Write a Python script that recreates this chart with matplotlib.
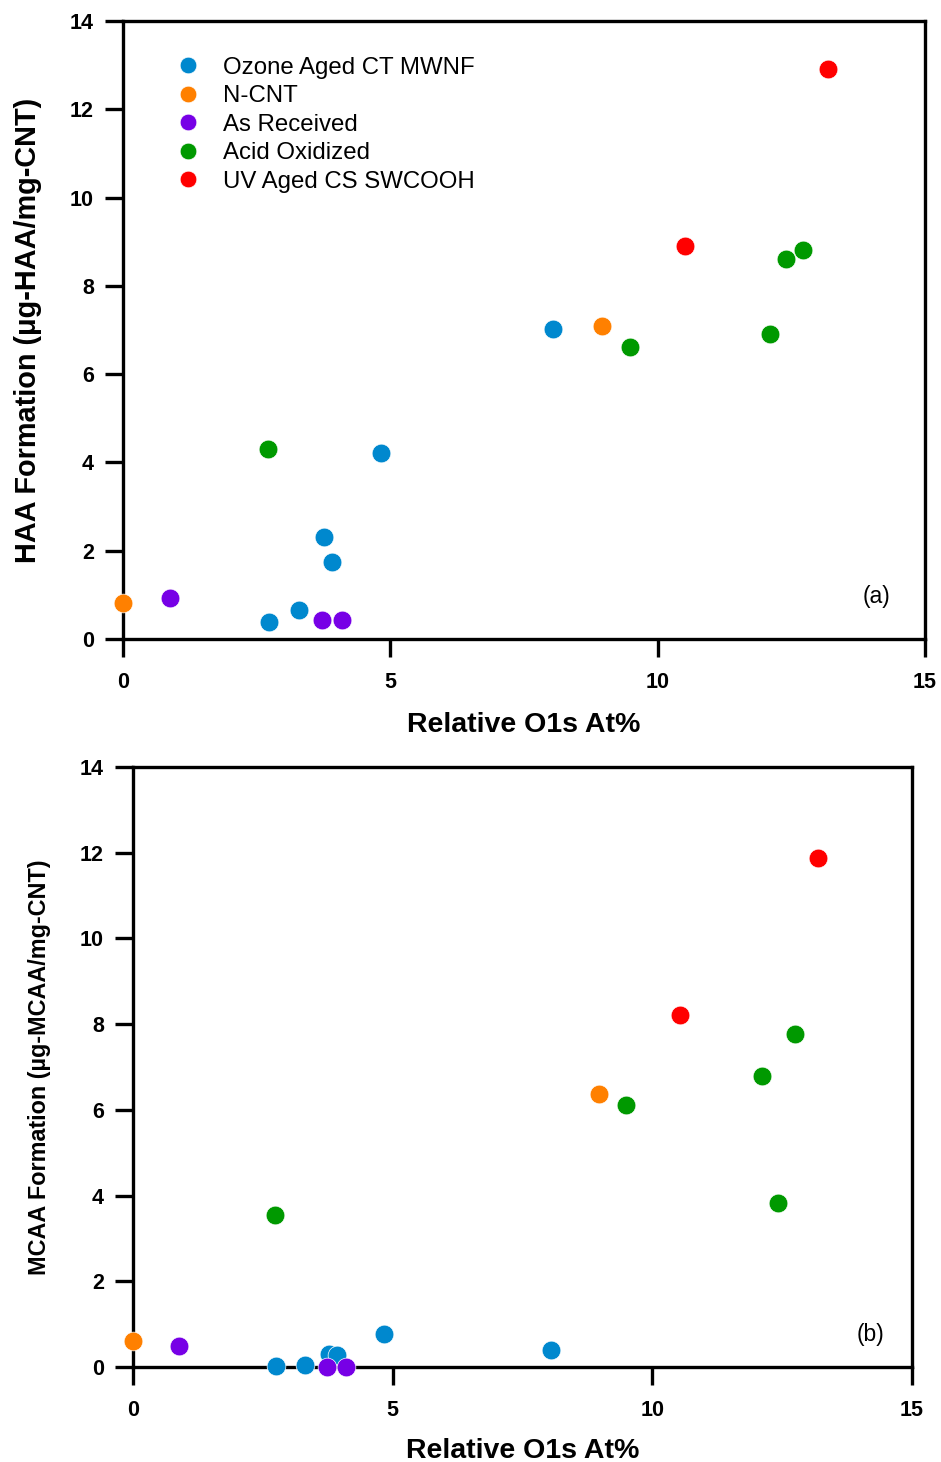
import matplotlib
matplotlib.use("Agg")
import matplotlib.pyplot as plt
from matplotlib.lines import Line2D

plt.rcParams['font.family'] = ['Liberation Sans', 'DejaVu Sans']

series_names = ["Ozone Aged CT MWNF", "N-CNT", "As Received", "Acid Oxidized", "UV Aged CS SWCOOH"]
colors = ["#0088CE", "#FF8000", "#7700E6", "#009900", "#FF0000"]

# Panel (a): HAA formation
haa_x = {
    "Ozone Aged CT MWNF": [8.04, 4.83, 3.76, 3.91, 3.29, 2.73],
    "N-CNT": [8.96, 0.0],
    "As Received": [0.88, 3.72, 4.10],
    "Acid Oxidized": [2.71, 9.48, 12.10, 12.40, 12.72],
    "UV Aged CS SWCOOH": [10.51, 13.19],
}
haa_y = {
    "Ozone Aged CT MWNF": [7.02, 4.21, 2.31, 1.74, 0.66, 0.39],
    "N-CNT": [7.09, 0.82],
    "As Received": [0.93, 0.43, 0.43],
    "Acid Oxidized": [4.30, 6.62, 6.91, 8.61, 8.81],
    "UV Aged CS SWCOOH": [8.90, 12.91],
}

# Panel (b): MCAA formation
mcaa_x = {
    "Ozone Aged CT MWNF": [4.83, 8.05, 3.77, 3.93, 3.31, 2.75],
    "N-CNT": [8.97, 0.0],
    "As Received": [0.89, 3.74, 4.10],
    "Acid Oxidized": [2.73, 9.49, 12.11, 12.75, 12.42],
    "UV Aged CS SWCOOH": [10.53, 13.19],
}
mcaa_y = {
    "Ozone Aged CT MWNF": [0.77, 0.40, 0.30, 0.28, 0.05, 0.02],
    "N-CNT": [6.37, 0.61],
    "As Received": [0.49, 0.0, 0.0],
    "Acid Oxidized": [3.55, 6.11, 6.79, 7.77, 3.83],
    "UV Aged CS SWCOOH": [8.21, 11.88],
}

x_ticks = [0, 5, 10, 15]
y_ticks = [0, 2, 4, 6, 8, 10, 12, 14]

fig = plt.figure(figsize=(9.41, 14.62), dpi=100)
ax1 = fig.add_axes([123/941, 1-639/1462, 802/941, 618/1462])
ax2 = fig.add_axes([133/941, 1-1367/1462, 779/941, 600/1462])

ms = 13.5

def style(ax, ylabel, ylabel_size, ylabelpad, panel, ppos, xlabelpad):
    ax.set_xlim(0, 15)
    ax.set_ylim(0, 14)
    ax.set_xticks(x_ticks)
    ax.set_yticks(y_ticks)
    for s in ax.spines.values():
        s.set_linewidth(2.4)
    ax.tick_params(direction='out', length=13, width=2.4, labelsize=15.5, pad=8)
    ax.tick_params(axis='x', pad=11)
    for lab in ax.get_xticklabels() + ax.get_yticklabels():
        lab.set_fontweight('bold')
    ax.set_xlabel("Relative O1s At%", fontsize=20.5, fontweight='bold', labelpad=xlabelpad)
    ax.set_ylabel(ylabel, fontsize=ylabel_size, fontweight='bold', labelpad=ylabelpad)
    ax.text(ppos[0], ppos[1], panel, transform=ax.transAxes, fontsize=16.5, ha='center', va='center')

for ax, dx, dy in [(ax1, haa_x, haa_y), (ax2, mcaa_x, mcaa_y)]:
    for name, c in zip(series_names, colors):
        ax.plot(dx[name], dy[name], linestyle='none', marker='o', markersize=ms,
                markerfacecolor=c, markeredgecolor='white', markeredgewidth=0.5,
                clip_on=False, zorder=3, label=name)

style(ax1, "HAA Formation (μg-HAA/mg-CNT)", 20.8, 20, "(a)", (0.940, 0.068), 13.5)
style(ax2, "MCAA Formation (µg-MCAA/mg-CNT)", 16.8, 21, "(b)", (0.947, 0.055), 12)

handles = [Line2D([], [], linestyle='none', marker='o', markersize=12,
                  markerfacecolor=c, markeredgecolor='white', markeredgewidth=0.5)
           for c in colors]
ax1.legend(handles, series_names, loc='upper left', bbox_to_anchor=(0.066, 0.942),
           frameon=False, fontsize=17.3, handlelength=1.0, handletextpad=0.95,
           labelspacing=0.27, borderpad=0, borderaxespad=0)

fig.savefig("out.png", dpi=100)
